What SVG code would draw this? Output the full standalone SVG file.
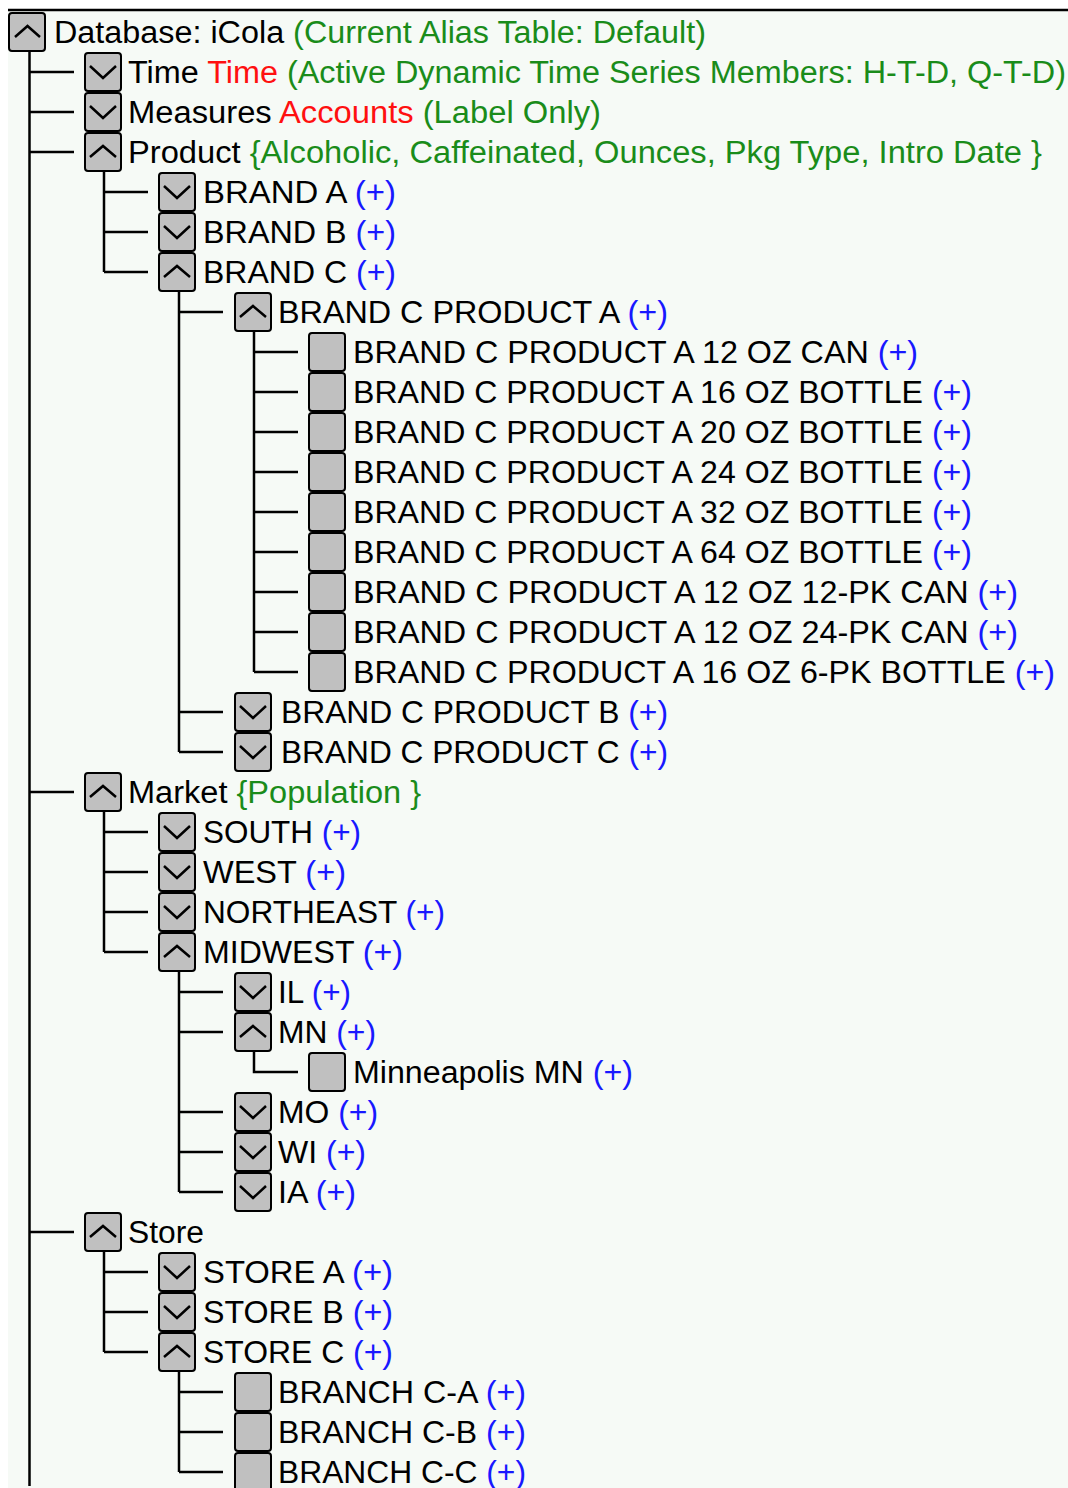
<svg xmlns="http://www.w3.org/2000/svg" width="1068" height="1488" viewBox="0 0 1068 1488">
<style>
.box{fill:#c0c0c0;stroke:#000;stroke-width:2}
.chev{fill:none;stroke:#000;stroke-width:2.5}
.ln{fill:none;stroke:#000;stroke-width:2.5}
text{font-family:"Liberation Sans",Arial,sans-serif;font-size:31px;fill:#000}
.g{fill:#1a8c1a}
.r{fill:#ff1010}
.b{fill:#1818ff}
</style>
<rect x="0" y="0" width="1068" height="1488" fill="#ffffff"/>
<rect x="8" y="10" width="1060" height="1478" fill="#f6faf6"/>
<line x1="8" y1="10" x2="1068" y2="10" stroke="#000" stroke-width="2.5"/>
<g id="connectors">
<path class="ln" d="M29.5 52V1486 M29.5 72H74 M29.5 112H74 M29.5 152H74 M29.5 792H74 M29.5 1232H74"/>
<path class="ln" d="M104 172V272 M104 192H148 M104 232H148 M104 272H148"/>
<path class="ln" d="M179 292V752 M179 312H223 M179 712H223 M179 752H223"/>
<path class="ln" d="M254 332V672 M254 352H298 M254 392H298 M254 432H298 M254 472H298 M254 512H298 M254 552H298 M254 592H298 M254 632H298 M254 672H298"/>
<path class="ln" d="M104 812V952 M104 832H148 M104 872H148 M104 912H148 M104 952H148"/>
<path class="ln" d="M179 972V1192 M179 992H223 M179 1032H223 M179 1112H223 M179 1152H223 M179 1192H223"/>
<path class="ln" d="M254 1052V1072H298"/>
<path class="ln" d="M104 1252V1352 M104 1272H148 M104 1312H148 M104 1352H148"/>
<path class="ln" d="M179 1372V1472 M179 1392H223 M179 1432H223 M179 1472H223"/>
</g>
<g id="n-database"><rect class="box" x="9" y="13" width="36" height="38" rx="3"/><path class="chev" d="M15 37L27.5 26L40 37"/><text x="54" y="43" textLength="652" lengthAdjust="spacingAndGlyphs">Database: iCola <tspan class="g">(Current Alias Table: Default)</tspan></text></g>
<g id="n-time"><rect class="box" x="85" y="53" width="36" height="38" rx="3"/><path class="chev" d="M90 66L103 78L116 66"/><text x="128" y="83" textLength="938" lengthAdjust="spacingAndGlyphs">Time <tspan class="r">Time</tspan> <tspan class="g">(Active Dynamic Time Series Members: H-T-D, Q-T-D)</tspan></text></g>
<g id="n-measures"><rect class="box" x="85" y="93" width="36" height="38" rx="3"/><path class="chev" d="M90 106L103 118L116 106"/><text x="128" y="123" textLength="473" lengthAdjust="spacingAndGlyphs">Measures <tspan class="r">Accounts</tspan> <tspan class="g">(Label Only)</tspan></text></g>
<g id="n-product"><rect class="box" x="85" y="133" width="36" height="38" rx="3"/><path class="chev" d="M90 157L103 146L116 157"/><text x="128" y="163" textLength="914" lengthAdjust="spacingAndGlyphs">Product <tspan class="g">{Alcoholic, Caffeinated, Ounces, Pkg Type, Intro Date }</tspan></text></g>
<g id="n-brand-a"><rect class="box" x="159" y="173" width="36" height="38" rx="3"/><path class="chev" d="M164 186L177 198L190 186"/><text x="203" y="203" textLength="193" lengthAdjust="spacingAndGlyphs">BRAND A <tspan class="b">(+)</tspan></text></g>
<g id="n-brand-b"><rect class="box" x="159" y="213" width="36" height="38" rx="3"/><path class="chev" d="M164 226L177 238L190 226"/><text x="203" y="243" textLength="193" lengthAdjust="spacingAndGlyphs">BRAND B <tspan class="b">(+)</tspan></text></g>
<g id="n-brand-c"><rect class="box" x="159" y="253" width="36" height="38" rx="3"/><path class="chev" d="M164 277L177 266L190 277"/><text x="203" y="283" textLength="193" lengthAdjust="spacingAndGlyphs">BRAND C <tspan class="b">(+)</tspan></text></g>
<g id="n-bc-prod-a"><rect class="box" x="235" y="293" width="36" height="38" rx="3"/><path class="chev" d="M240 317L253 306L266 317"/><text x="278" y="323" textLength="390" lengthAdjust="spacingAndGlyphs">BRAND C PRODUCT A <tspan class="b">(+)</tspan></text></g>
<g id="n-pa-12can"><rect class="box" x="309" y="333" width="36" height="38" rx="3"/><text x="353" y="363" textLength="565" lengthAdjust="spacingAndGlyphs">BRAND C PRODUCT A 12 OZ CAN <tspan class="b">(+)</tspan></text></g>
<g id="n-pa-16bottle"><rect class="box" x="309" y="373" width="36" height="38" rx="3"/><text x="353" y="403" textLength="619" lengthAdjust="spacingAndGlyphs">BRAND C PRODUCT A 16 OZ BOTTLE <tspan class="b">(+)</tspan></text></g>
<g id="n-pa-20bottle"><rect class="box" x="309" y="413" width="36" height="38" rx="3"/><text x="353" y="443" textLength="619" lengthAdjust="spacingAndGlyphs">BRAND C PRODUCT A 20 OZ BOTTLE <tspan class="b">(+)</tspan></text></g>
<g id="n-pa-24bottle"><rect class="box" x="309" y="453" width="36" height="38" rx="3"/><text x="353" y="483" textLength="619" lengthAdjust="spacingAndGlyphs">BRAND C PRODUCT A 24 OZ BOTTLE <tspan class="b">(+)</tspan></text></g>
<g id="n-pa-32bottle"><rect class="box" x="309" y="493" width="36" height="38" rx="3"/><text x="353" y="523" textLength="619" lengthAdjust="spacingAndGlyphs">BRAND C PRODUCT A 32 OZ BOTTLE <tspan class="b">(+)</tspan></text></g>
<g id="n-pa-64bottle"><rect class="box" x="309" y="533" width="36" height="38" rx="3"/><text x="353" y="563" textLength="619" lengthAdjust="spacingAndGlyphs">BRAND C PRODUCT A 64 OZ BOTTLE <tspan class="b">(+)</tspan></text></g>
<g id="n-pa-12pk"><rect class="box" x="309" y="573" width="36" height="38" rx="3"/><text x="353" y="603" textLength="665" lengthAdjust="spacingAndGlyphs">BRAND C PRODUCT A 12 OZ 12-PK CAN <tspan class="b">(+)</tspan></text></g>
<g id="n-pa-24pk"><rect class="box" x="309" y="613" width="36" height="38" rx="3"/><text x="353" y="643" textLength="665" lengthAdjust="spacingAndGlyphs">BRAND C PRODUCT A 12 OZ 24-PK CAN <tspan class="b">(+)</tspan></text></g>
<g id="n-pa-6pk"><rect class="box" x="309" y="653" width="36" height="38" rx="3"/><text x="353" y="683" textLength="702" lengthAdjust="spacingAndGlyphs">BRAND C PRODUCT A 16 OZ 6-PK BOTTLE <tspan class="b">(+)</tspan></text></g>
<g id="n-bc-prod-b"><rect class="box" x="235" y="693" width="36" height="38" rx="3"/><path class="chev" d="M240 706L253 718L266 706"/><text x="281" y="723" textLength="387" lengthAdjust="spacingAndGlyphs">BRAND C PRODUCT B <tspan class="b">(+)</tspan></text></g>
<g id="n-bc-prod-c"><rect class="box" x="235" y="733" width="36" height="38" rx="3"/><path class="chev" d="M240 746L253 758L266 746"/><text x="281" y="763" textLength="387" lengthAdjust="spacingAndGlyphs">BRAND C PRODUCT C <tspan class="b">(+)</tspan></text></g>
<g id="n-market"><rect class="box" x="85" y="773" width="36" height="38" rx="3"/><path class="chev" d="M90 797L103 786L116 797"/><text x="128" y="803" textLength="293" lengthAdjust="spacingAndGlyphs">Market <tspan class="g">{Population }</tspan></text></g>
<g id="n-south"><rect class="box" x="159" y="813" width="36" height="38" rx="3"/><path class="chev" d="M164 826L177 838L190 826"/><text x="203" y="843" textLength="158" lengthAdjust="spacingAndGlyphs">SOUTH <tspan class="b">(+)</tspan></text></g>
<g id="n-west"><rect class="box" x="159" y="853" width="36" height="38" rx="3"/><path class="chev" d="M164 866L177 878L190 866"/><text x="203" y="883" textLength="143" lengthAdjust="spacingAndGlyphs">WEST <tspan class="b">(+)</tspan></text></g>
<g id="n-northeast"><rect class="box" x="159" y="893" width="36" height="38" rx="3"/><path class="chev" d="M164 906L177 918L190 906"/><text x="203" y="923" textLength="242" lengthAdjust="spacingAndGlyphs">NORTHEAST <tspan class="b">(+)</tspan></text></g>
<g id="n-midwest"><rect class="box" x="159" y="933" width="36" height="38" rx="3"/><path class="chev" d="M164 957L177 946L190 957"/><text x="203" y="963" textLength="200" lengthAdjust="spacingAndGlyphs">MIDWEST <tspan class="b">(+)</tspan></text></g>
<g id="n-il"><rect class="box" x="235" y="973" width="36" height="38" rx="3"/><path class="chev" d="M240 986L253 998L266 986"/><text x="278" y="1003" textLength="73" lengthAdjust="spacingAndGlyphs">IL <tspan class="b">(+)</tspan></text></g>
<g id="n-mn"><rect class="box" x="235" y="1013" width="36" height="38" rx="3"/><path class="chev" d="M240 1037L253 1026L266 1037"/><text x="278" y="1043" textLength="98" lengthAdjust="spacingAndGlyphs">MN <tspan class="b">(+)</tspan></text></g>
<g id="n-minneapolis"><rect class="box" x="309" y="1053" width="36" height="38" rx="3"/><text x="353" y="1083" textLength="280" lengthAdjust="spacingAndGlyphs">Minneapolis MN <tspan class="b">(+)</tspan></text></g>
<g id="n-mo"><rect class="box" x="235" y="1093" width="36" height="38" rx="3"/><path class="chev" d="M240 1106L253 1118L266 1106"/><text x="278" y="1123" textLength="100" lengthAdjust="spacingAndGlyphs">MO <tspan class="b">(+)</tspan></text></g>
<g id="n-wi"><rect class="box" x="235" y="1133" width="36" height="38" rx="3"/><path class="chev" d="M240 1146L253 1158L266 1146"/><text x="278" y="1163" textLength="88" lengthAdjust="spacingAndGlyphs">WI <tspan class="b">(+)</tspan></text></g>
<g id="n-ia"><rect class="box" x="235" y="1173" width="36" height="38" rx="3"/><path class="chev" d="M240 1186L253 1198L266 1186"/><text x="278" y="1203" textLength="78" lengthAdjust="spacingAndGlyphs">IA <tspan class="b">(+)</tspan></text></g>
<g id="n-store"><rect class="box" x="85" y="1213" width="36" height="38" rx="3"/><path class="chev" d="M90 1237L103 1226L116 1237"/><text x="128" y="1243" textLength="76" lengthAdjust="spacingAndGlyphs">Store</text></g>
<g id="n-store-a"><rect class="box" x="159" y="1253" width="36" height="38" rx="3"/><path class="chev" d="M164 1266L177 1278L190 1266"/><text x="203" y="1283" textLength="190" lengthAdjust="spacingAndGlyphs">STORE A <tspan class="b">(+)</tspan></text></g>
<g id="n-store-b"><rect class="box" x="159" y="1293" width="36" height="38" rx="3"/><path class="chev" d="M164 1306L177 1318L190 1306"/><text x="203" y="1323" textLength="190" lengthAdjust="spacingAndGlyphs">STORE B <tspan class="b">(+)</tspan></text></g>
<g id="n-store-c"><rect class="box" x="159" y="1333" width="36" height="38" rx="3"/><path class="chev" d="M164 1357L177 1346L190 1357"/><text x="203" y="1363" textLength="190" lengthAdjust="spacingAndGlyphs">STORE C <tspan class="b">(+)</tspan></text></g>
<g id="n-branch-ca"><rect class="box" x="235" y="1373" width="36" height="38" rx="3"/><text x="278" y="1403" textLength="248" lengthAdjust="spacingAndGlyphs">BRANCH C-A <tspan class="b">(+)</tspan></text></g>
<g id="n-branch-cb"><rect class="box" x="235" y="1413" width="36" height="38" rx="3"/><text x="278" y="1443" textLength="248" lengthAdjust="spacingAndGlyphs">BRANCH C-B <tspan class="b">(+)</tspan></text></g>
<g id="n-branch-cc"><rect class="box" x="235" y="1453" width="36" height="38" rx="3"/><text x="278" y="1483" textLength="248" lengthAdjust="spacingAndGlyphs">BRANCH C-C <tspan class="b">(+)</tspan></text></g>
</svg>
